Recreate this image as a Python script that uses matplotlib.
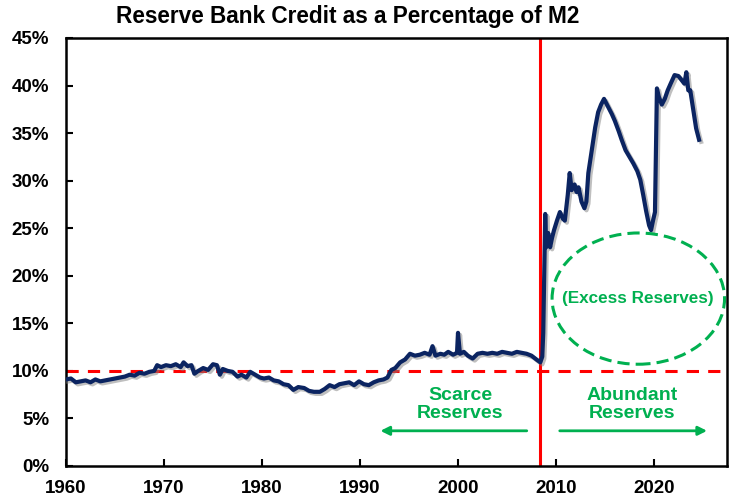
import matplotlib
matplotlib.use("Agg")
import matplotlib.pyplot as plt
import matplotlib.patheffects as pe
from matplotlib.patches import Ellipse

years = [1960.0, 1960.5, 1961.0, 1961.5, 1962.0, 1962.5, 1963.0, 1963.5, 1964.0, 1964.5,
         1965.0, 1965.5, 1966.0, 1966.5, 1967.0, 1967.5, 1968.0, 1968.5, 1969.0, 1969.3,
         1969.7, 1970.2, 1970.7, 1971.2, 1971.7, 1972.0, 1972.4, 1972.8, 1973.1, 1973.5,
         1974.0, 1974.5, 1975.0, 1975.4, 1975.7, 1976.0, 1976.5, 1977.0, 1977.5, 1977.9,
         1978.4, 1978.8, 1979.3, 1979.8, 1980.2, 1980.7, 1981.2, 1981.7, 1982.2, 1982.7,
         1983.2, 1983.7, 1984.3, 1984.8, 1985.3, 1985.9, 1986.4, 1986.9, 1987.4, 1987.9,
         1988.4, 1988.9, 1989.4, 1989.9, 1990.4, 1990.9, 1991.4, 1991.9, 1992.4, 1992.8,
         1993.2, 1993.6, 1994.1, 1994.6, 1995.1, 1995.6, 1996.1, 1996.6, 1997.1, 1997.4,
         1997.7, 1998.2, 1998.6, 1999.0, 1999.5, 1999.9, 2000.0, 2000.2, 2000.6, 2001.0,
         2001.5, 2002.0, 2002.5, 2003.0, 2003.5, 2004.0, 2004.5, 2005.0, 2005.5, 2006.0,
         2006.5, 2007.0, 2007.5, 2008.0, 2008.4, 2008.6, 2008.7, 2008.8, 2008.9, 2009.0,
         2009.2, 2009.4, 2009.6, 2009.8, 2010.1, 2010.4, 2010.7, 2010.9, 2011.2, 2011.4,
         2011.6, 2011.9, 2012.1, 2012.3, 2012.6, 2012.9, 2013.1, 2013.3, 2013.7, 2014.0,
         2014.3, 2014.6, 2014.9, 2015.3, 2015.7, 2016.0, 2016.4, 2016.7, 2017.1, 2017.5,
         2017.9, 2018.3, 2018.6, 2018.9, 2019.2, 2019.5, 2019.7, 2019.9, 2020.1, 2020.2,
         2020.3, 2020.5, 2020.8, 2021.1, 2021.4, 2021.7, 2022.1, 2022.5, 2022.8, 2023.1,
         2023.3, 2023.5, 2023.7, 2024.0, 2024.3, 2024.6]
pct = [9.1, 9.2, 8.8, 8.9, 9.0, 8.8, 9.1, 8.9, 9.0, 9.1,
       9.2, 9.3, 9.4, 9.6, 9.5, 9.8, 9.7, 9.9, 10.0, 10.6,
       10.4, 10.6, 10.5, 10.7, 10.4, 10.9, 10.5, 10.6, 9.7, 10.0,
       10.3, 10.1, 10.7, 10.6, 9.6, 10.2, 10.0, 9.9, 9.4, 9.6,
       9.3, 9.9, 9.6, 9.3, 9.2, 9.3, 9.0, 8.9, 8.6, 8.5,
       8.0, 8.3, 8.2, 7.9, 7.8, 7.8, 8.1, 8.5, 8.3, 8.6,
       8.7, 8.8, 8.5, 8.9, 8.6, 8.5, 8.8, 9.0, 9.1, 9.3,
       10.1, 10.3, 10.9, 11.2, 11.8, 11.6, 11.7, 11.9, 11.7, 12.6,
       11.6, 11.8, 11.7, 12.0, 11.7, 11.9, 14.0, 11.8, 12.0, 11.6,
       11.3, 11.8, 11.9, 11.8, 11.9, 11.8, 12.0, 11.9, 11.8, 12.0,
       11.9, 11.8, 11.6, 11.2, 10.9, 11.5, 14.0, 20.0, 26.5, 23.0,
       24.5, 23.0, 24.0, 24.8, 25.8, 26.7, 26.0, 25.8, 28.5, 30.8,
       29.0, 29.6, 28.8, 29.3, 27.8, 27.1, 27.8, 30.8, 33.5, 35.6,
       37.2, 38.0, 38.6, 37.8, 37.0, 36.3, 35.2, 34.3, 33.2, 32.5,
       31.8, 31.0, 30.1, 28.5, 26.8, 25.3, 24.8, 25.8, 26.7, 33.0,
       39.7, 38.8, 38.0, 38.6, 39.5, 40.2, 41.1, 41.0, 40.6, 40.2,
       41.4, 39.5, 39.5, 37.5, 35.5, 34.3]

base_level = 10
regime_change = 2008.4
x_ticks = [1960, 1970, 1980, 1990, 2000, 2010, 2020]
y_ticks = [0, 5, 10, 15, 20, 25, 30, 35, 40, 45]

navy = "#0B2461"
green = "#00B050"
red = "#FF0000"
FONT = "Liberation Sans"

fig = plt.figure(figsize=(7.35, 5.0), dpi=100)
ax = fig.add_axes([66/735, 34/500, 661/735, 428/500])

ax.axhline(base_level, color=red, lw=2.2, ls=(0, (4, 3)), zorder=2)
ax.axvline(regime_change, color=red, lw=2.2, zorder=2)

ax.plot(years, pct, color=navy, lw=3.0, solid_joinstyle="round", zorder=3,
        path_effects=[pe.SimpleLineShadow(offset=(1.5, -1.5), shadow_color="gray", alpha=0.5),
                      pe.Normal()])

ax.set_xlim(1960, 2027.45)
ax.set_ylim(0, 45)
ax.set_xticks(x_ticks)
ax.set_yticks(y_ticks)
ax.set_yticklabels([f"{v}%" for v in y_ticks])
ax.tick_params(direction="in", length=5, width=1.5, labelsize=13.5)
ax.tick_params(axis="x", pad=10)
ax.tick_params(axis="y", pad=12)
for lab in ax.get_xticklabels() + ax.get_yticklabels():
    lab.set_fontfamily(FONT)
    lab.set_fontweight("bold")
for s in ax.spines.values():
    s.set_linewidth(1.8)
    s.set_color("black")

ell = Ellipse((2018.4, 17.6), 17.6, 13.8, fill=False, ec=green, lw=2.2, ls=(0, (4, 2)), zorder=4)
ax.add_patch(ell)
ax.text(2018.4, 17.6, "(Excess Reserves)", color=green, fontsize=12.3, fontweight="bold",
        family=FONT, ha="center", va="center")

ax.text(2000.2, 6.5, "Scarce\nReserves", color=green, fontsize=14, fontweight="bold",
        family=FONT, ha="center", va="center", linespacing=1.1)
ax.text(2017.8, 6.5, "Abundant\nReserves", color=green, fontsize=14, fontweight="bold",
        family=FONT, ha="center", va="center", linespacing=1.1)
ax.annotate("", xy=(1991.8, 3.7), xytext=(2007.3, 3.7),
            arrowprops=dict(arrowstyle="-|>", color=green, lw=2, mutation_scale=13))
ax.annotate("", xy=(2025.7, 3.7), xytext=(2010.1, 3.7),
            arrowprops=dict(arrowstyle="-|>", color=green, lw=2, mutation_scale=13))

fig.suptitle("Reserve Bank Credit as a Percentage of M2", x=348/735, y=0.99,
             fontsize=16.3, fontweight="bold", family=FONT, va="top")

fig.savefig("out.png", dpi=100)
